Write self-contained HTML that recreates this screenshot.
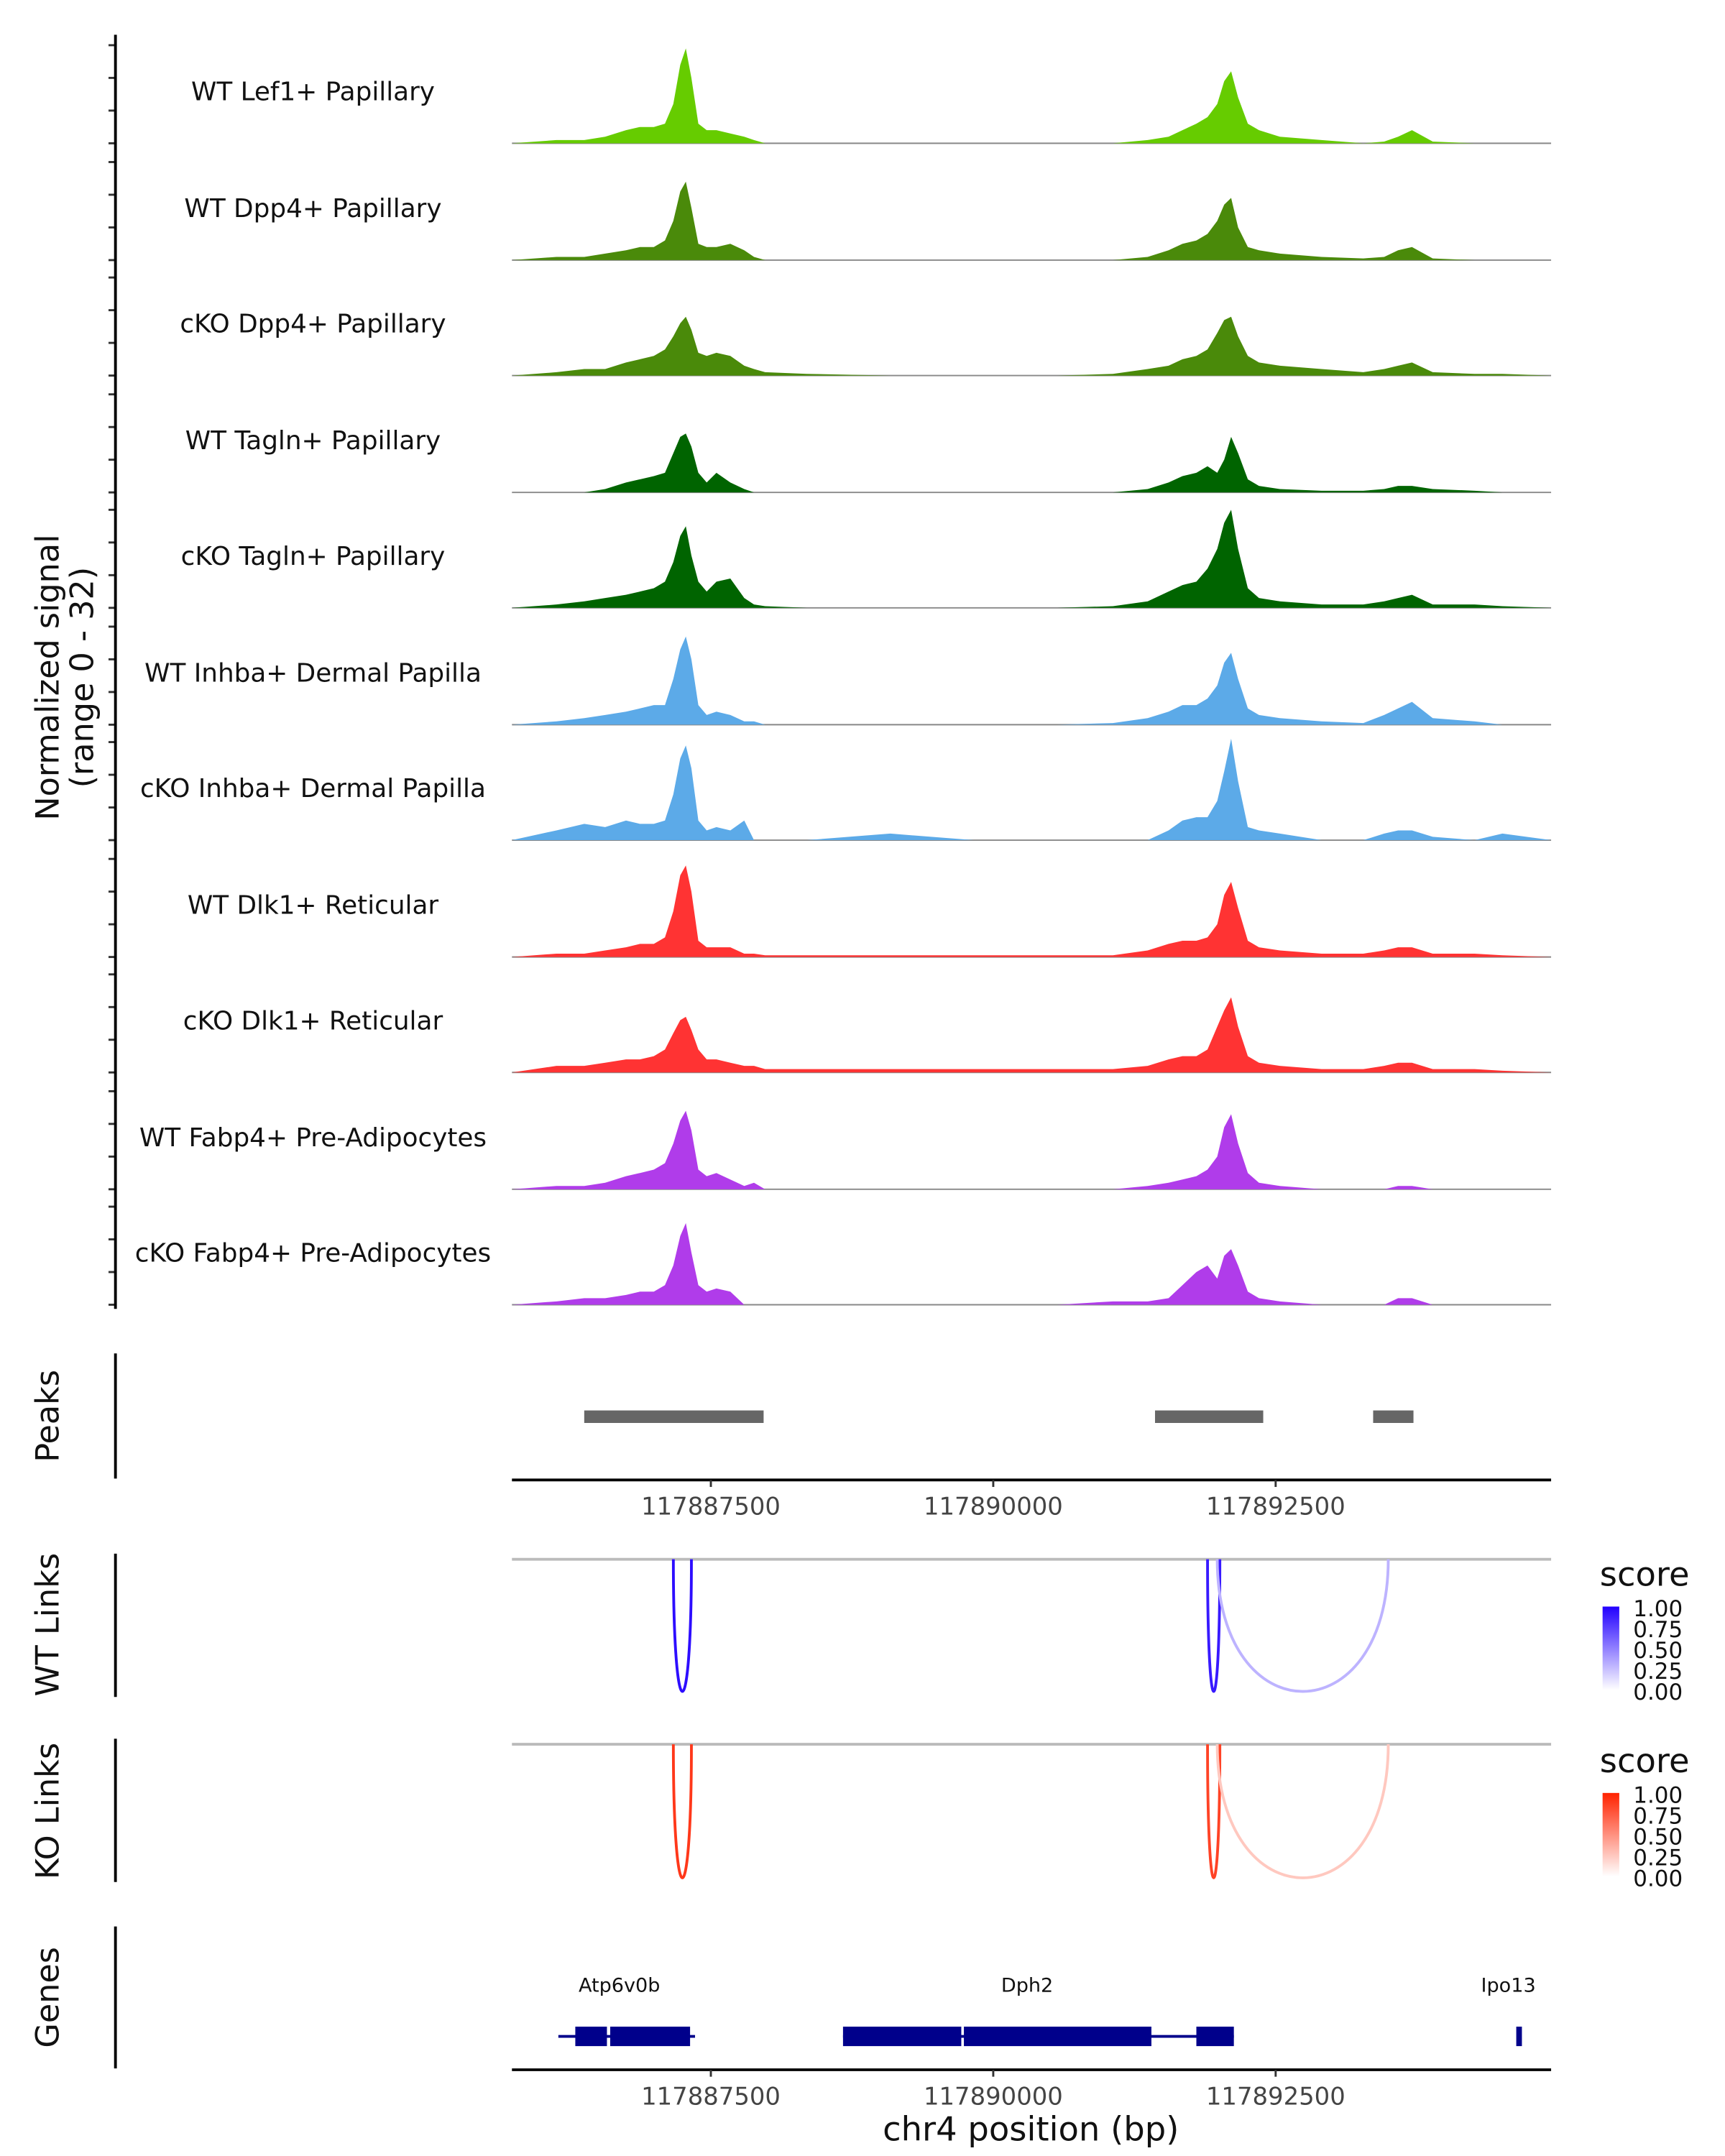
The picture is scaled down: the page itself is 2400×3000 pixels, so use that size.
<!DOCTYPE html>
<html><head><meta charset="utf-8">
<style>html,body{margin:0;padding:0;background:#fff}svg{display:block}text{font-family:"DejaVu Sans","Liberation Sans",sans-serif}</style>
</head><body>
<svg id="chart" width="2400" height="3000" viewBox="0 0 1240 1550" xmlns="http://www.w3.org/2000/svg">
<defs>
<linearGradient id="gBlue" x1="0" y1="1" x2="0" y2="0"><stop offset="0" stop-color="#ffffff"/><stop offset="1" stop-color="#2200ff"/></linearGradient>
<linearGradient id="gRed" x1="0" y1="1" x2="0" y2="0"><stop offset="0" stop-color="#ffffff"/><stop offset="1" stop-color="#ff2200"/></linearGradient>
</defs>
<g id="tracks"></g>
<text transform="translate(42,487) rotate(-90)" text-anchor="middle" font-size="23" fill="#111">Normalized signal</text>
<text transform="translate(67,487) rotate(-90)" text-anchor="middle" font-size="23" fill="#111">(range 0 - 32)</text>
<line x1="83" y1="25" x2="83" y2="941" stroke="#000" stroke-width="2"/>

<line x1="83" y1="973" x2="83" y2="1063" stroke="#000" stroke-width="2"/>
<text transform="translate(42,1018) rotate(-90)" text-anchor="middle" font-size="23" fill="#111">Peaks</text>
<g id="peaks"></g>
<line x1="368" y1="1064" x2="1115" y2="1064" stroke="#000" stroke-width="2"/>
<g id="xticks1"></g>

<line x1="83" y1="1117" x2="83" y2="1220" stroke="#000" stroke-width="2"/>
<text transform="translate(42,1168) rotate(-90)" text-anchor="middle" font-size="23" fill="#111">WT Links</text>
<line x1="368" y1="1121" x2="1115" y2="1121" stroke="#bbb" stroke-width="2"/>
<g id="wtlinks"></g>

<line x1="83" y1="1250" x2="83" y2="1353" stroke="#000" stroke-width="2"/>
<text transform="translate(42,1302) rotate(-90)" text-anchor="middle" font-size="23" fill="#111">KO Links</text>
<line x1="368" y1="1254" x2="1115" y2="1254" stroke="#bbb" stroke-width="2"/>
<g id="kolinks"></g>

<g>
<text x="1150" y="1140" font-size="24" fill="#111">score</text>
<rect x="1152" y="1155" width="12" height="60" fill="url(#gBlue)"/>
<text x="1174" y="1162" font-size="16" fill="#111">1.00</text><text x="1174" y="1177" font-size="16" fill="#111">0.75</text><text x="1174" y="1192" font-size="16" fill="#111">0.50</text><text x="1174" y="1207" font-size="16" fill="#111">0.25</text><text x="1174" y="1222" font-size="16" fill="#111">0.00</text>
</g>
<g>
<text x="1150" y="1274" font-size="24" fill="#111">score</text>
<rect x="1152" y="1289" width="12" height="60" fill="url(#gRed)"/>
<text x="1174" y="1296" font-size="16" fill="#111">1.00</text><text x="1174" y="1311" font-size="16" fill="#111">0.75</text><text x="1174" y="1326" font-size="16" fill="#111">0.50</text><text x="1174" y="1341" font-size="16" fill="#111">0.25</text><text x="1174" y="1356" font-size="16" fill="#111">0.00</text>
</g>

<line x1="83" y1="1385" x2="83" y2="1487" stroke="#000" stroke-width="2"/>
<text transform="translate(42,1436) rotate(-90)" text-anchor="middle" font-size="23" fill="#111">Genes</text>
<g id="genes"></g>
<line x1="368" y1="1488" x2="1115" y2="1488" stroke="#000" stroke-width="2"/>
<g id="xticks2"></g>
<text x="741" y="1539" text-anchor="middle" font-size="24" fill="#111">chr4 position (bp)</text>
</svg>
<script>
const positions=[117885739,117886133,117886379,117886564,117886749,117886872,117886995,117887094,117887168,117887229,117887278,117887328,117887389,117887463,117887549,117887672,117887796,117887882,117887980,117888350,117889089,117889828,117890566,117891059,117891367,117891552,117891675,117891798,117891897,117891983,117892044,117892106,117892167,117892254,117892352,117892537,117892906,117893276,117893461,117893584,117893707,117893891,117894261,117894507,117894938];
const trackNames=["WT Lef1+ Papillary","WT Dpp4+ Papillary","cKO Dpp4+ Papillary","WT Tagln+ Papillary","cKO Tagln+ Papillary","WT Inhba+ Dermal Papilla","cKO Inhba+ Dermal Papilla","WT Dlk1+ Reticular","cKO Dlk1+ Reticular","WT Fabp4+ Pre-Adipocytes","cKO Fabp4+ Pre-Adipocytes"];
const trackColors=["#66cc00","#4a8a0a","#4a8a0a","#006400","#006400","#5caae8","#5caae8","#ff3333","#ff3333","#b03cea","#b03cea"];
const sLef1=[0,1,1,2,4,5,5,6,12,24,29,20,6,4,4,3,2,1,0,0,0,0,0,0,1,2,4,6,8,12,19,22,14,6,4,2,1,0,0.5,2,4,0.5,0,0,0];
const sDpp4=[0,1,1,2,3,4,4,6,12,21,24,16,5,4,4,5,3,1,0,0,0,0,0,0,1,3,5,6,8,12,17,19,10,4,3,2,1,0.5,1,3,4,0.5,0,0,0];
const sDpp4KO=[0,1,2,2,4,5,6,8,12,16,18,14,7,6,7,6,3,2,1,0.5,0,0,0,0.5,2,3,5,6,8,13,17,18,12,6,4,3,2,1,2,3,4,1,0.5,0.5,0];
const sTagln=[0,0,0,1,3,4,5,6,12,17,18,14,6,3,6,3,1,0,0,0,0,0,0,0,1,3,5,6,8,6,10,17,12,4,2,1,0.5,0.5,1,2,2,1,0.5,0,0];
const sTaglnKO=[0,1,2,3,4,5,6,8,14,22,25,16,8,5,8,9,3,1,0.5,0,0,0,0,0.5,2,5,7,8,12,18,26,30,18,6,3,2,1,1,2,3,4,1,1,0.5,0];
const sInhba=[0,1,2,3,4,5,6,6,14,23,27,20,6,3,4,3,1,1,0,0,0,0,0,0.5,2,4,6,6,8,12,19,22,14,5,3,2,1,0.5,3,5,7,2,1,0,0];
const sInhbaKO=[0,3,5,4,6,5,5,6,14,25,29,22,6,3,4,3,6,0,0,0,2,0,0,0,0,3,6,7,7,12,21,31,18,4,3,2,0,0,2,3,3,1,0,2,0];
const sDlk1=[0,1,1,2,3,4,4,6,14,25,28,20,5,3,3,3,1,1,0.5,0.5,0.5,0.5,0.5,0.5,2,4,5,5,6,10,19,23,15,5,3,2,1,1,2,3,3,1,1,0.5,0];
const sDlk1KO=[0,2,2,3,4,4,5,7,12,16,17,13,7,4,4,3,2,2,1,1,1,1,1,1,2,4,5,5,7,14,19,23,14,5,3,2,1,1,2,3,3,1,1,0.5,0];
const sFabp4=[0,1,1,2,4,5,6,8,14,21,24,18,6,4,5,3,1,2,0,0,0,0,0,0,1,2,3,4,6,10,19,23,14,5,2,1,0,0,0,1,1,0,0,0,0];
const sFabp4KO=[0,1,2,2,3,4,4,6,12,21,25,16,6,4,5,4,0,0,0,0,0,0,0,1,1,2,6,10,12,8,15,17,12,4,2,1,0,0,0,2,2,0,0,0,0];
const signals=[sLef1,sDpp4,sDpp4KO,sTagln,sTaglnKO,sInhba,sInhbaKO,sDlk1,sDlk1KO,sFabp4,sFabp4KO];
const peakStarts=[117886379,117891432,117893363];
const peakEnds=[117887967,117892390,117893720];
const xTicks=[117887500,117890000,117892500];
const wtLinkStarts=[117887168,117891897,117891983];
const wtLinkEnds=[117887328,117892006,117893497];
const wtLinkScores=[0.95,0.9,0.3];
const koLinkStarts=[117887168,117891897,117891983];
const koLinkEnds=[117887328,117892006,117893497];
const koLinkScores=[0.9,0.85,0.25];
const geneNames=["Atp6v0b","Dph2","Ipo13"];
const geneLabelPos=[117886690,117890300,117894560];
const exonStarts=[117886300,117886609,117888670,117889740,117891798,117894630];
const exonEnds=[117886580,117887316,117889717,117891400,117892130,117894680];

const NS="http://www.w3.org/2000/svg";
const X0=368,BP0=117885739,PXBP=203/2500;
const xs=bp=>X0+(bp-BP0)*PXBP;
const UNIT=2.35;
const ys=(base,v)=>base-v*UNIT;
function mk(tag,attrs,parent){const e=document.createElementNS(NS,tag);for(const k in attrs)e.setAttribute(k,attrs[k]);parent.appendChild(e);return e;}
const tracksG=document.getElementById('tracks');
const baselines=[103,187,270,354,437,521,604,688,771,855,938];
signals.forEach((arr,i)=>{
  const base=baselines[i];
  const g=mk('g',{},tracksG);
  
  
  const t=mk('text',{x:225,y:base-31,'text-anchor':'middle','font-size':18.5,fill:'#111'},g);
  t.textContent=trackNames[i];
  
  
  for(let k=0;k<4;k++){mk('line',{x1:78,x2:83,y1:base-k*23.5,y2:base-k*23.5,stroke:'#333','stroke-width':1.5},g);}
  mk('line',{x1:368,x2:1115,y1:base,y2:base,stroke:'#888','stroke-width':1},g);
  let d='M'+xs(positions[0])+','+base;
  arr.forEach((v,j)=>{d+=' L'+xs(positions[j]).toFixed(1)+','+ys(base,v).toFixed(1);});
  d+=' L'+xs(positions[positions.length-1])+','+base+' Z';
  const p=mk('path',{d:d,fill:trackColors[i]},g);
  
  
});
const pk=document.getElementById('peaks');
peakStarts.forEach((s,i)=>{
  const r=mk('rect',{x:xs(s),y:1014,width:xs(peakEnds[i])-xs(s),height:9,fill:'#666'},pk);
  
  
});
['xticks1','xticks2'].forEach((id,n)=>{
  const g=document.getElementById(id);const y=n?1488:1064;
  xTicks.forEach(t=>{
    mk('line',{x1:xs(t),x2:xs(t),y1:y,y2:y+5,stroke:'#333','stroke-width':1.5},g);
    const tx=mk('text',{x:xs(t),y:y+25,'text-anchor':'middle','font-size':17.5,fill:'#444'},g);
    tx.textContent=t;
    
    
  });
});
function links(id,starts,ends,scores,base,depth,rgb){
  const g=document.getElementById(id);
  starts.forEach((s,i)=>{
    const a=xs(s),b=xs(ends[i]);const sc=scores[i];
    const col=`rgb(${Math.round(255-(255-rgb[0])*sc)},${Math.round(255-(255-rgb[1])*sc)},${Math.round(255-(255-rgb[2])*sc)})`;
    const cy=base+depth*4/3;
    const p=mk('path',{d:`M${a},${base} C${a},${cy} ${b},${cy} ${b},${base}`,fill:'none',stroke:col,'stroke-width':2},g);
    
    
  });
}
links('wtlinks',wtLinkStarts,wtLinkEnds,wtLinkScores,1121,95,[34,0,255]);
links('kolinks',koLinkStarts,koLinkEnds,koLinkScores,1254,96,[255,34,0]);
const gg=document.getElementById('genes');
geneNames.forEach((n,i)=>{
  const t=mk('text',{x:xs(geneLabelPos[i]),y:1432,'text-anchor':'middle','font-size':14,fill:'#111'},gg);
  t.textContent=n;
  
  
});
mk('line',{x1:xs(117886150),x2:xs(117887360),y1:1464,y2:1464,stroke:'#00008b','stroke-width':2},gg);
mk('line',{x1:xs(117888670),x2:xs(117892130),y1:1464,y2:1464,stroke:'#00008b','stroke-width':2},gg);
exonStarts.forEach((s,i)=>{
  const r=mk('rect',{x:xs(s),y:1457,width:xs(exonEnds[i])-xs(s),height:14,fill:'#00008b'},gg);
  
  
});
</script>
</body></html>
